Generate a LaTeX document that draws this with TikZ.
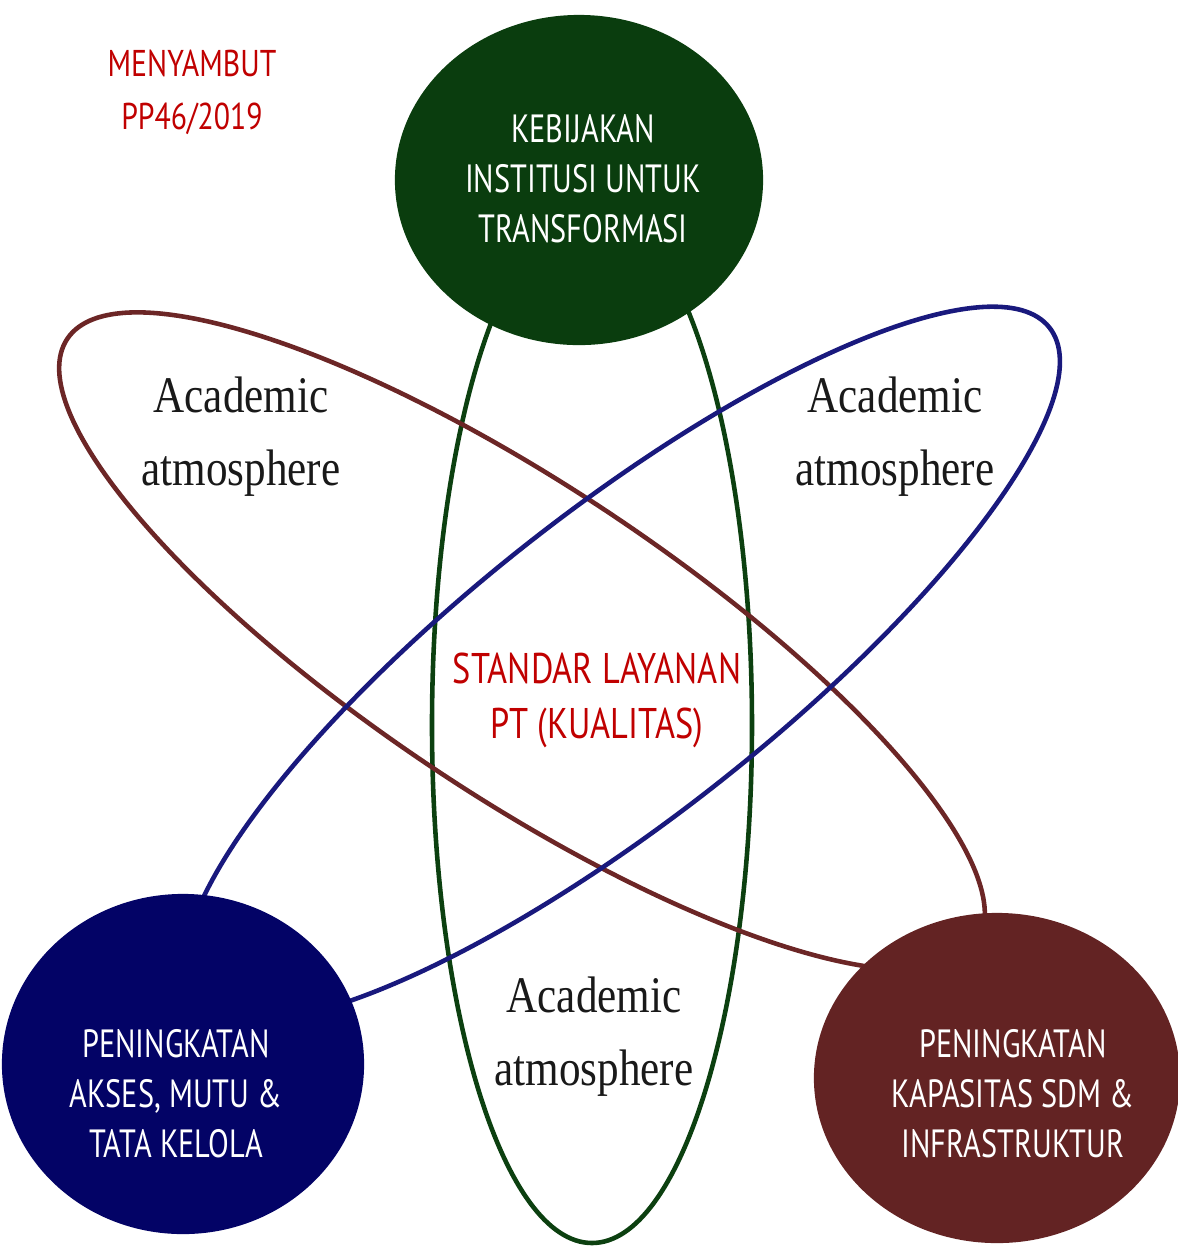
\documentclass[tikz,border=0pt]{standalone}
\usepackage{fontspec}
\usepackage{tikz}
\usetikzlibrary{shapes.geometric}
\usetikzlibrary{positioning}
\usetikzlibrary{backgrounds}

\newfontfamily\dinfont{PT Sans}[FakeStretch=0.8]
\newfontfamily\hubfont{PT Sans}[FakeStretch=0.77]
\newfontfamily\atmofont{Liberation Serif}[FakeStretch=0.84]

\definecolor{kebgreen}{RGB}{10,61,14}
\definecolor{aksblue}{RGB}{3,3,102}
\definecolor{kapred}{RGB}{99,35,35}
\definecolor{ppred}{RGB}{192,0,0}
\definecolor{orbgreen}{RGB}{12,64,16}
\definecolor{orbblue}{RGB}{25,25,125}
\definecolor{orbred}{RGB}{108,38,38}

\begin{document}
\begin{tikzpicture}[
            x = 0.01cm, % one unit = one pixel of the layout
            y = -0.01cm,
            orbit/.style = {line width = 1.3pt},
            auto
        ]

        \tikzstyle{hub}=[
            ellipse,
            draw = none,
            inner sep = 0pt
        ]
        \tikzstyle{hubtext}=[
            text = white,
            align = center,
            font = \hubfont\fontsize{11.2}{14.2}\selectfont
        ]
        \tikzstyle{redtext}=[
            text = ppred,
            align = center,
            font = \dinfont\fontsize{12.2}{15.6}\selectfont
        ]
        \tikzstyle{academic}=[
            text = black!90,
            align = center,
            font = \atmofont\fontsize{14.6}{20.8}\selectfont
        ]

        \useasboundingbox (0,0) rectangle (1178,1253);

	% the three hubs
        \node[hub, fill = kebgreen, minimum width = 3.68cm, minimum height = 3.30cm] (KEB) at (579,180) {};
        \node[hub, fill = aksblue, minimum width = 3.62cm, minimum height = 3.40cm] (AKS) at (183,1064) {};
        \node[hub, fill = kapred, minimum width = 3.66cm, minimum height = 3.30cm] (KAP) at (997,1078) {};

        \node[hubtext] (KEBtext) at (583,179) {KEBIJAKAN\\INSTITUSI UNTUK\\TRANSFORMASI};
        \node[hubtext] (AKStext) at (176,1094) {PENINGKATAN\\AKSES, MUTU \&\\TATA KELOLA};
        \node[hubtext] (KAPtext) at (1013,1094) {PENINGKATAN\\KAPASITAS SDM \&\\INFRASTRUKTUR};

	% red texts
        \node[redtext] (STD) at (597,700) {STANDAR LAYANAN\\PT (KUALITAS)};
        \node[redtext, font = \dinfont\fontsize{10.6}{15}\selectfont] (PP) at (192,92) {MENYAMBUT\\PP46/2019};

	% labels inside the orbits
        \node[academic] (ACleft) at (241,437) {Academic\\atmosphere};
        \node[academic] (ACright) at (895,437) {Academic\\atmosphere};
        \node[academic] (ACbottom) at (594,1037) {Academic\\atmosphere};

	% ORBITS

   \begin{scope}[on background layer]
   \draw[orbit, draw = orbgreen] (592,725) ellipse [x radius = 160, y radius = 518];
   \draw[orbit, draw = orbred] (522,641) ellipse [x radius = 546, y radius = 155, rotate = -33.6];
   \draw[orbit, draw = orbblue] (622,664) ellipse [x radius = 544, y radius = 153, rotate = 38.2];
  \end{scope}

  \end{tikzpicture}
\end{document}
